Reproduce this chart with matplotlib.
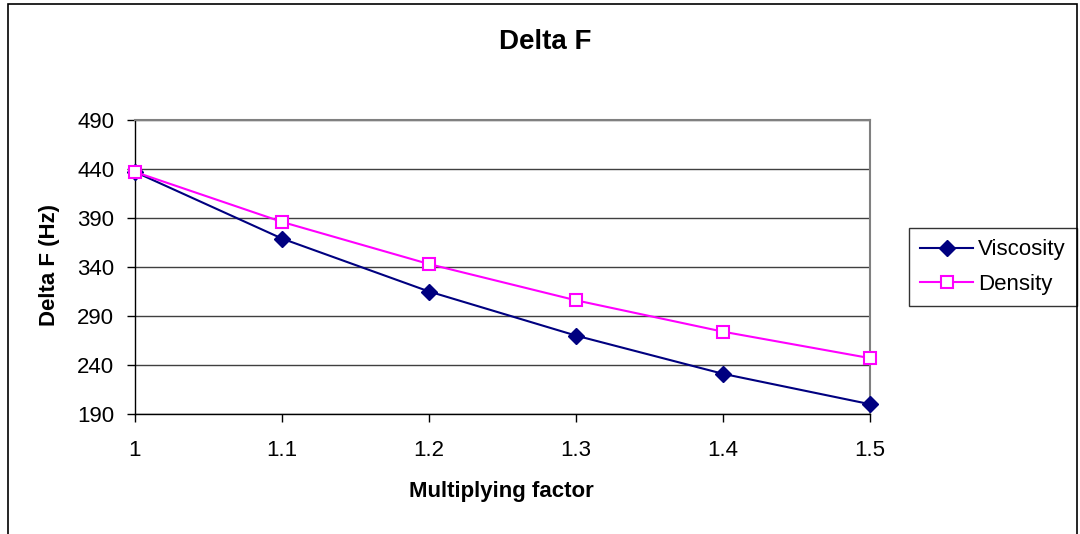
import matplotlib.pyplot as plt
from matplotlib.patches import Rectangle

plt.rcParams['font.family'] = ['Liberation Sans', 'DejaVu Sans']

factor = [1.0, 1.1, 1.2, 1.3, 1.4, 1.5]
viscosity = [437, 369, 315, 270, 231, 200]
density = [437, 386, 343, 306, 274, 247]
yticks = [190, 240, 290, 340, 390, 440, 490]
xticks = [1, 1.1, 1.2, 1.3, 1.4, 1.5]
xlabels = ['1', '1.1', '1.2', '1.3', '1.4', '1.5']

fig = plt.figure(figsize=(10.8, 5.34), dpi=100)
ax = fig.add_axes([0.125, 0.2247, 0.6806, 0.5506])

# outer chart frame, bottom edge runs off the canvas
fig.patches.append(Rectangle((8 / 1080, -0.05), 1069 / 1080, 1.05 - 4 / 534,
                             transform=fig.transFigure, fill=False,
                             edgecolor='black', linewidth=1.2))

ax.plot(factor, viscosity, color='#000080', marker='D', markersize=8,
        linewidth=1.5, label='Viscosity', clip_on=False, zorder=3)
ax.plot(factor, density, color='#FF00FF', marker='s', markersize=9,
        markerfacecolor='white', markeredgewidth=1.5, linewidth=1.5,
        label='Density', clip_on=False, zorder=4)

ax.set_xlim(1, 1.5)
ax.set_ylim(190, 490)
ax.set_xticks(xticks)
ax.set_xticklabels(xlabels)
ax.set_yticks(yticks)
ax.tick_params(axis='both', direction='out', length=6, width=1,
               labelsize=16, colors='black')
ax.tick_params(axis='x', pad=13)
ax.tick_params(axis='y', pad=9)
ax.grid(axis='y', color='#404040', linewidth=1)
ax.set_axisbelow(True)

for side in ['top', 'right']:
    ax.spines[side].set_color('#808080')
    ax.spines[side].set_linewidth(1.5)
for side in ['left', 'bottom']:
    ax.spines[side].set_color('black')
    ax.spines[side].set_linewidth(1)

fig.text(545 / 1080, 1 - 42 / 534, 'Delta F', fontsize=20, fontweight='bold',
         ha='center', va='center')
fig.text(501 / 1080, 1 - 492 / 534, 'Multiplying factor', fontsize=16,
         fontweight='bold', ha='center', va='center')
fig.text(50 / 1080, 1 - 265 / 534, 'Delta F (Hz)', fontsize=16,
         fontweight='bold', ha='center', va='center', rotation=90)

leg = ax.legend(loc='center left', bbox_to_anchor=(1.053, 0.5), fontsize=16,
                frameon=True, fancybox=False, edgecolor='black',
                handlelength=2.4, handletextpad=0.2, borderpad=0.5,
                labelspacing=0.6, borderaxespad=0)
leg.get_frame().set_linewidth(1)

fig.savefig('out.png', dpi=100)
